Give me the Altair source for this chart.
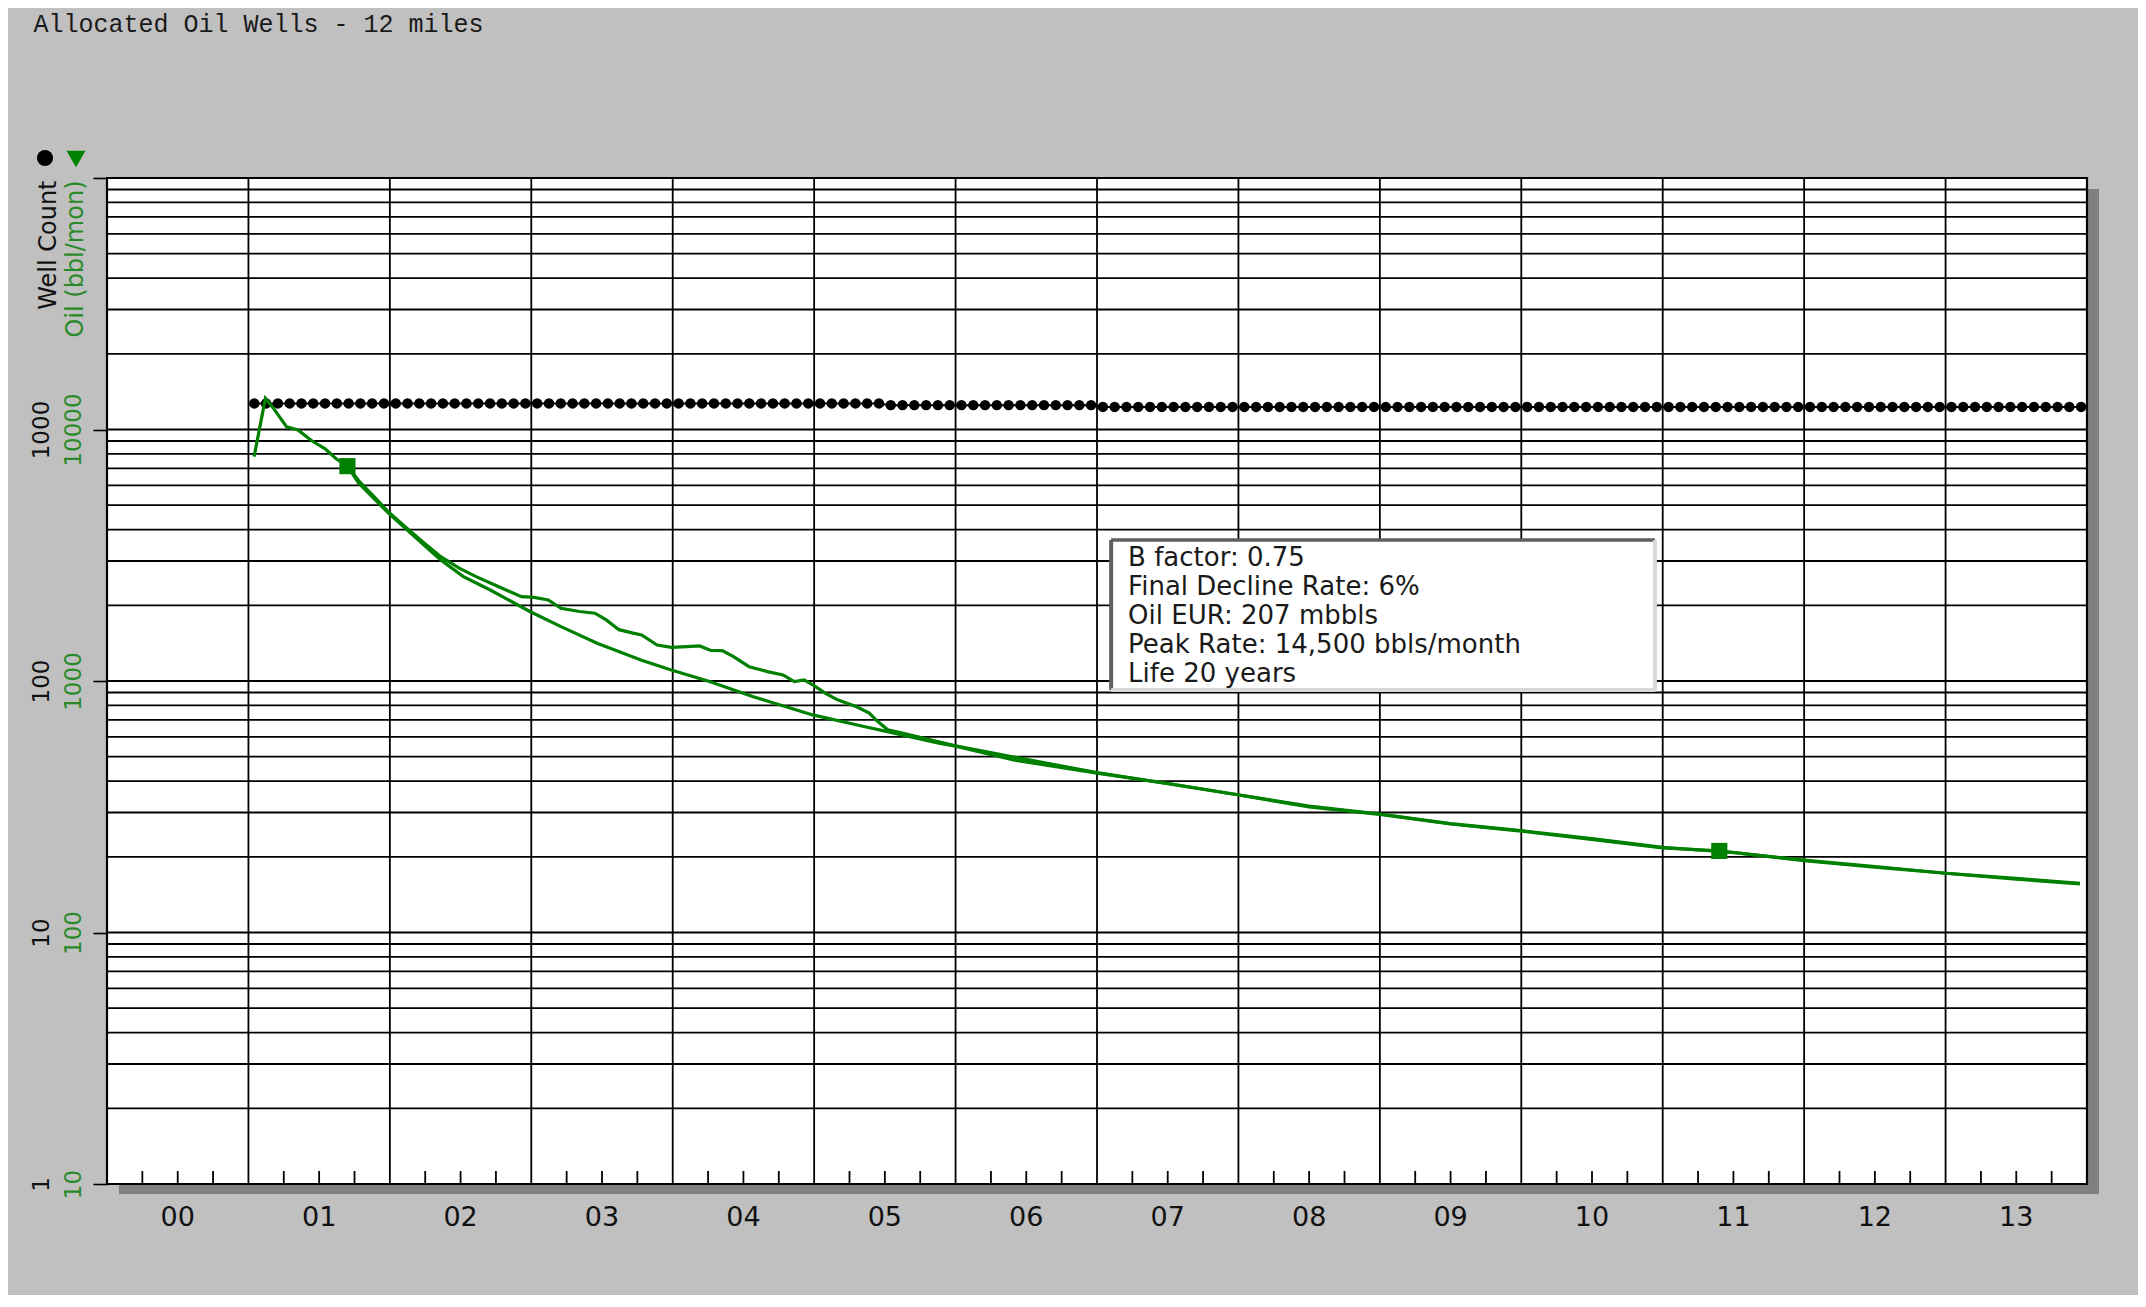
import altair as alt
import pandas as pd

# ---------------- text ----------------
CHART_TITLE = "Allocated Oil Wells - 12 miles"
WELL_AXIS_TITLE = "Well Count"
OIL_AXIS_TITLE = "Oil (bbl/mon)"
ANNOTATION_LINES = [
    "B factor: 0.75",
    "Final Decline Rate: 6%",
    "Oil EUR: 207 mbbls",
    "Peak Rate: 14,500 bbls/month",
    "Life 20 years",
]

# ---------------- axes ----------------
YEARS = list(range(2000, 2014))            # one column per year
YEAR_LABELS = ["00", "01", "02", "03", "04", "05", "06",
               "07", "08", "09", "10", "11", "12", "13"]
OIL_TICKS = [10, 100, 1000, 10000, 100000]
WELL_TICKS = [1, 10, 100, 1000]
OIL_GRID = [m * 10 ** k for k in range(1, 5) for m in range(1, 10)] + [100000]

# ---------------- data ----------------
# monthly well count, Jan 2001 .. Dec 2013
WELL_COUNT = [
    1270, 1270, 1270, 1270, 1270, 1270, 1270, 1270, 1270, 1270, 1270, 1270,  # 2001
    1270, 1270, 1270, 1270, 1270, 1270, 1270, 1270, 1270, 1270, 1270, 1270,  # 2002
    1270, 1270, 1270, 1270, 1270, 1270, 1270, 1270, 1270, 1270, 1270, 1270,  # 2003
    1270, 1270, 1270, 1270, 1270, 1270, 1270, 1270, 1270, 1270, 1270, 1270,  # 2004
    1270, 1270, 1270, 1270, 1270, 1270, 1250, 1250, 1250, 1250, 1250, 1250,  # 2005
    1250, 1250, 1250, 1250, 1250, 1250, 1250, 1250, 1250, 1250, 1250, 1250,  # 2006
    1230, 1230, 1230, 1230, 1230, 1230, 1230, 1230, 1230, 1230, 1230, 1230,  # 2007
    1230, 1230, 1230, 1230, 1230, 1230, 1230, 1230, 1230, 1230, 1230, 1230,  # 2008
    1230, 1230, 1230, 1230, 1230, 1230, 1230, 1230, 1230, 1230, 1230, 1230,  # 2009
    1230, 1230, 1230, 1230, 1230, 1230, 1230, 1230, 1230, 1230, 1230, 1230,  # 2010
    1230, 1230, 1230, 1230, 1230, 1230, 1230, 1230, 1230, 1230, 1230, 1230,  # 2011
    1230, 1230, 1230, 1230, 1230, 1230, 1230, 1230, 1230, 1230, 1230, 1230,  # 2012
    1230, 1230, 1230, 1230, 1230, 1230, 1230, 1230, 1230, 1230, 1230, 1230,  # 2013
]
WELL_MONTHS = [(y, m) for y in range(2001, 2014) for m in range(1, 13)]

# actual oil production (bbl/month), time in decimal years
OIL_T = [2001.04, 2001.12, 2001.17, 2001.27, 2001.35, 2001.45, 2001.54, 2001.62,
         2001.70, 2001.78, 2001.89, 2001.99, 2002.11, 2002.24, 2002.36, 2002.49,
         2002.61, 2002.77, 2002.93, 2003.02, 2003.12, 2003.21, 2003.34, 2003.45,
         2003.53, 2003.62, 2003.72, 2003.78, 2003.89, 2003.99, 2004.10, 2004.19,
         2004.27, 2004.35, 2004.43, 2004.54, 2004.67, 2004.78, 2004.86, 2004.93,
         2005.01, 2005.08, 2005.17, 2005.30, 2005.39, 2005.45, 2005.52, 2005.60,
         2006.00, 2006.50, 2007.00, 2007.50, 2008.00, 2008.50, 2009.00, 2009.50,
         2010.00, 2010.50, 2011.00, 2011.50, 2012.00, 2012.50, 2013.00, 2013.50,
         2013.95]
OIL_V = [7800, 13300, 12300, 10250, 9950, 9000, 8400, 7650,
         7150, 6250, 5400, 4700, 4100, 3550, 3120, 2810,
         2600, 2370, 2165, 2150, 2100, 1945, 1890, 1860,
         1750, 1600, 1550, 1525, 1390, 1360, 1370, 1378,
         1322, 1320, 1250, 1140, 1090, 1057, 995, 1010,
         950, 893, 840, 790, 745, 690, 640, 625,
         553, 488, 432, 391, 353, 318, 296, 271,
         254, 236, 218, 208, 194, 183, 172, 164,
         157]

# fitted hyperbolic decline curve
FIT_T = [2001.70, 2001.78, 2001.99, 2002.20, 2002.36, 2002.52, 2002.71, 2002.99,
         2003.21, 2003.47, 2003.78, 2003.99, 2004.26, 2004.57, 2004.99, 2005.36,
         2005.55, 2005.89, 2006.00, 2006.41, 2007.00, 2007.49, 2008.00, 2008.50,
         2009.00, 2009.50, 2010.00, 2010.42, 2011.00, 2011.40, 2012.00, 2012.50,
         2013.00, 2013.50, 2013.95]
FIT_V = [7150, 6110, 4650, 3640, 3030, 2600, 2300, 1890,
         1645, 1410, 1210, 1105, 995, 866, 733, 658,
         623, 565, 551, 485, 430, 392, 352, 316,
         295, 270, 253, 237, 217, 211, 193, 182,
         172, 163, 156]

# fit anchor markers
FIT_MARK_T = [2001.70, 2011.40]
FIT_MARK_V = [7150, 211]

# ---------------- layout / style ----------------
W, H = 1980, 1006
GREEN = "#008000"
GREEN_TXT = "#2A8A2A"
GRID_W = 1.8
BOX_X0, BOX_X1 = 2007.10, 2010.945     # annotation box, in data units
BOX_TOP, BOX_BOT = 3636, 920
BOX_TEXT_X = 2007.22

XS = alt.Scale(domain=[2000, 2014], nice=False, zero=False)
OIL = alt.Scale(type="log", domain=[10, 100000], nice=False)
WELL = alt.Scale(type="log", domain=[1, 10000], nice=False)

# ---------------- tables ----------------
dummy = pd.DataFrame({"k": [0]})
title_df = pd.DataFrame({"txt": [CHART_TITLE]})
well_df = pd.DataFrame({
    "t": [y + (m - 0.5) / 12 for (y, m) in WELL_MONTHS],
    "wells": WELL_COUNT,
})
oil_df = pd.DataFrame({"t": OIL_T, "oil": OIL_V})
fit_df = pd.DataFrame({"t": FIT_T, "oil": FIT_V})
mark_df = pd.DataFrame({"t": FIT_MARK_T, "oil": FIT_MARK_V})
vgrid_df = pd.DataFrame({"t": [float(y) for y in YEARS[1:]]})
hgrid_df = pd.DataFrame({"v": OIL_GRID})
qtick_df = pd.DataFrame({"t": [y + q for y in YEARS for q in (0.25, 0.5, 0.75)]})
xlab_df = pd.DataFrame({"t": [y + 0.5 for y in YEARS], "lab": YEAR_LABELS})
box_df = pd.DataFrame({"x0": [BOX_X0], "x1": [BOX_X1], "y0": [BOX_TOP], "y1": [BOX_BOT]})
text_df = pd.DataFrame({"x": [BOX_TEXT_X], "y": [BOX_TOP], "txt": ["\n".join(ANNOTATION_LINES)]})

# ---------------- axes ----------------
oil_axis = alt.Axis(
    orient="left", values=OIL_TICKS, format="d",
    labelExpr="datum.value >= 100000 ? '' : datum.label",
    ticks=True, tickSize=14, tickColor="black", tickWidth=1.6,
    domain=False, grid=False,
    labelAngle=270, labelAlign="center", labelBaseline="middle", labelPadding=20,
    labelFont="DejaVu Sans", labelFontSize=23, labelColor=GREEN_TXT,
    labelFlush=False, labelOverlap=False, labelBound=False,
    title=OIL_AXIS_TITLE, titleAngle=270, titleX=-32, titleY=2,
    titleAlign="right", titleBaseline="middle",
    titleFont="DejaVu Sans", titleFontSize=24, titleFontWeight="normal", titleColor=GREEN_TXT,
)
well_axis = alt.Axis(
    orient="left", values=WELL_TICKS, format="d",
    ticks=False, tickSize=0, domain=False, grid=False,
    labelAngle=270, labelAlign="center", labelBaseline="middle", labelPadding=66,
    labelFont="DejaVu Sans", labelFontSize=23, labelColor="#111111",
    labelFlush=False, labelOverlap=False, labelBound=False,
    title=WELL_AXIS_TITLE, titleAngle=270, titleX=-59, titleY=2,
    titleAlign="right", titleBaseline="middle",
    titleFont="DejaVu Sans", titleFontSize=24, titleFontWeight="normal", titleColor="#111111",
)

# ---------------- layers ----------------
base = alt.Chart(dummy)
shadow = base.mark_rect(color="#808080").encode(
    x=alt.value(12), x2=alt.value(W + 12), y=alt.value(11), y2=alt.value(H + 10))
paper = base.mark_rect(fill="white", stroke="black", strokeWidth=2.2).encode(
    x=alt.value(0), x2=alt.value(W), y=alt.value(0), y2=alt.value(H))

title_txt = alt.Chart(title_df).mark_text(
    align="left", baseline="middle", font="Liberation Mono", fontSize=25,
    color="#1a1a1a").encode(x=alt.value(-73.5), y=alt.value(-154), text="txt:N")

hgrid = alt.Chart(hgrid_df).mark_rule(color="black", strokeWidth=GRID_W).encode(
    y=alt.Y("v:Q", scale=OIL, axis=oil_axis), x=alt.value(0), x2=alt.value(W))
vgrid = alt.Chart(vgrid_df).mark_rule(color="black", strokeWidth=GRID_W).encode(
    x=alt.X("t:Q", scale=XS, axis=None), y=alt.value(0), y2=alt.value(H))
qticks = alt.Chart(qtick_df).mark_rule(color="black", strokeWidth=GRID_W).encode(
    x=alt.X("t:Q", scale=XS, axis=None), y=alt.value(H - 13), y2=alt.value(H))
xlabels = alt.Chart(xlab_df).mark_text(
    align="center", baseline="middle", font="DejaVu Sans", fontSize=27,
    color="#111111").encode(
    x=alt.X("t:Q", scale=XS, axis=None), y=alt.value(H + 34), text="lab:N")

box = alt.Chart(box_df).mark_rect(fill="white").encode(
    x=alt.X("x0:Q", scale=XS, axis=None), x2="x1:Q",
    y=alt.Y("y0:Q", scale=OIL, axis=None), y2="y1:Q")
box_left = alt.Chart(box_df).mark_rule(color="#5F5F5F", strokeWidth=4).encode(
    x=alt.X("x0:Q", scale=XS, axis=None),
    y=alt.Y("y0:Q", scale=OIL, axis=None), y2="y1:Q")
box_top = alt.Chart(box_df).mark_rule(color="#5F5F5F", strokeWidth=3.5).encode(
    x=alt.X("x0:Q", scale=XS, axis=None), x2="x1:Q",
    y=alt.Y("y0:Q", scale=OIL, axis=None))
box_right = alt.Chart(box_df).mark_rule(color="#D8D8D8", strokeWidth=4).encode(
    x=alt.X("x1:Q", scale=XS, axis=None),
    y=alt.Y("y0:Q", scale=OIL, axis=None), y2="y1:Q")
box_bottom = alt.Chart(box_df).mark_rule(color="#D8D8D8", strokeWidth=4).encode(
    x=alt.X("x0:Q", scale=XS, axis=None), x2="x1:Q",
    y=alt.Y("y1:Q", scale=OIL, axis=None))
box_text = alt.Chart(text_df).mark_text(
    align="left", baseline="alphabetic", font="DejaVu Sans", fontSize=26,
    lineBreak="\n", lineHeight=29, dy=26, color="#1a1a1a").encode(
    x=alt.X("x:Q", scale=XS, axis=None),
    y=alt.Y("y:Q", scale=OIL, axis=None),
    text="txt:N")

well_line = alt.Chart(well_df).mark_line(color="black", strokeWidth=2).encode(
    x=alt.X("t:Q", scale=XS, axis=None),
    y=alt.Y("wells:Q", scale=WELL, axis=well_axis))
well_pts = alt.Chart(well_df).mark_point(
    shape="circle", filled=True, size=110, color="black", opacity=1).encode(
    x=alt.X("t:Q", scale=XS, axis=None),
    y=alt.Y("wells:Q", scale=WELL, axis=None))

oil_line = alt.Chart(oil_df).mark_line(color=GREEN, strokeWidth=3.2).encode(
    x=alt.X("t:Q", scale=XS, axis=None),
    y=alt.Y("oil:Q", scale=OIL, axis=None))
fit_line = alt.Chart(fit_df).mark_line(color=GREEN, strokeWidth=3.2).encode(
    x=alt.X("t:Q", scale=XS, axis=None),
    y=alt.Y("oil:Q", scale=OIL, axis=None))
fit_marks = alt.Chart(mark_df).mark_point(
    shape="square", filled=True, size=260, color=GREEN, opacity=1).encode(
    x=alt.X("t:Q", scale=XS, axis=None),
    y=alt.Y("oil:Q", scale=OIL, axis=None))

leg_well = base.mark_point(shape="circle", filled=True, size=260, color="black", opacity=1).encode(
    x=alt.value(-62), y=alt.value(-20))
leg_oil = base.mark_point(shape="triangle-down", filled=True, size=360, color=GREEN, opacity=1).encode(
    x=alt.value(-31), y=alt.value(-19))

chart = alt.layer(
    shadow, paper, title_txt, hgrid, vgrid, qticks, xlabels,
    box, box_left, box_top, box_right, box_bottom, box_text,
    well_line, well_pts, oil_line, fit_line, fit_marks,
    leg_well, leg_oil,
).resolve_scale(y="independent").properties(
    width=W, height=H,
    autosize=alt.AutoSizeParams(type="none"),
    padding={"left": 99, "top": 170, "right": 51, "bottom": 111},
    background="#C0C0C0",
).configure_view(strokeWidth=0)

chart.save("out.html", embed_options={"renderer": "svg", "actions": False})
